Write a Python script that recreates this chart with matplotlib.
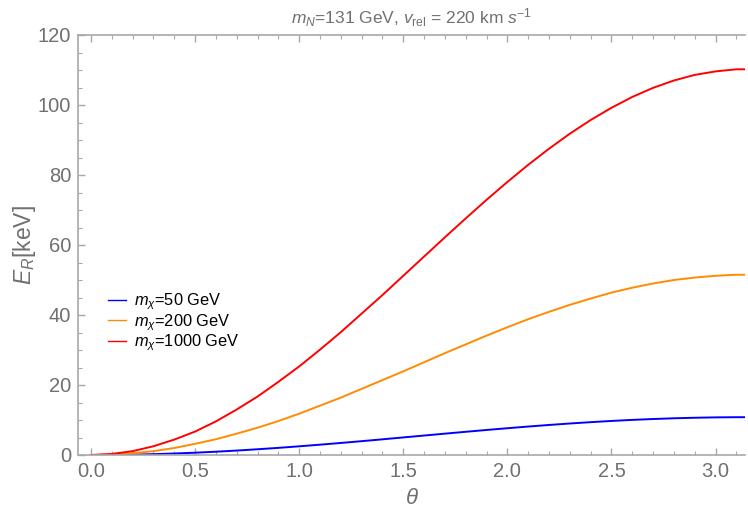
import matplotlib
matplotlib.use('Agg')
import matplotlib.pyplot as plt
from matplotlib.ticker import MultipleLocator

plt.rcParams['font.family'] = ['Liberation Sans', 'DejaVu Sans']
plt.rcParams['mathtext.fontset'] = 'custom'
plt.rcParams['mathtext.rm'] = 'Liberation Sans'
plt.rcParams['mathtext.it'] = 'Liberation Sans:italic'
plt.rcParams['mathtext.bf'] = 'Liberation Sans:bold'

# scattering angle (rad)
theta = [0.0, 0.1, 0.2, 0.3, 0.4, 0.5, 0.6, 0.7, 0.8, 0.9, 1.0,
         1.1, 1.2, 1.3, 1.4, 1.5, 1.6, 1.7, 1.8, 1.9, 2.0,
         2.1, 2.2, 2.3, 2.4, 2.5, 2.6, 2.7, 2.8, 2.9, 3.0,
         3.1, 3.1416]

# recoil energy in keV for each WIMP mass
er_50 = [0.0, 0.03, 0.11, 0.24, 0.43, 0.66, 0.94, 1.27, 1.64, 2.04, 2.48,
         2.95, 3.44, 3.95, 4.48, 5.02, 5.56, 6.10, 6.63, 7.15, 7.65,
         8.13, 8.58, 9.00, 9.38, 9.73, 10.03, 10.28, 10.49, 10.64, 10.75,
         10.80, 10.80]
er_200 = [0.0, 0.1, 0.5, 1.1, 2.0, 3.2, 4.5, 6.1, 7.8, 9.7, 11.8,
          14.1, 16.4, 18.9, 21.4, 23.9, 26.5, 29.1, 31.6, 34.1, 36.5,
          38.8, 40.9, 42.9, 44.7, 46.4, 47.8, 49.0, 50.0, 50.7, 51.2,
          51.5, 51.5]
er_1000 = [0.0, 0.3, 1.1, 2.5, 4.4, 6.7, 9.6, 13.0, 16.7, 20.9, 25.3,
           30.1, 35.1, 40.4, 45.7, 51.2, 56.7, 62.2, 67.6, 72.9, 78.0,
           82.9, 87.5, 91.8, 95.7, 99.2, 102.3, 104.9, 107.0, 108.6, 109.6,
           110.2, 110.2]

labels = [r'$m_\chi$=50 GeV', r'$m_\chi$=200 GeV', r'$m_\chi$=1000 GeV']
colors = ['#0000ff', '#ff8c00', '#ff0000']

fig = plt.figure(figsize=(7.48, 5.13), dpi=100)
ax = fig.add_axes([78 / 748, 58 / 513, 667 / 748, 420 / 513])

for y, lab, c in zip([er_50, er_200, er_1000], labels, colors):
    ax.plot(theta, y, color=c, lw=1.4, label=lab)

ax.set_xlim(-0.0625, 3.1416)
ax.set_ylim(0, 120)
ax.xaxis.set_major_locator(MultipleLocator(0.5))
ax.xaxis.set_minor_locator(MultipleLocator(0.1))
ax.yaxis.set_major_locator(MultipleLocator(20))
ax.yaxis.set_minor_locator(MultipleLocator(5))
ax.xaxis.set_major_formatter(matplotlib.ticker.FormatStrFormatter('%.1f'))

axcol = '#a8a8a8'
txtcol = '#707070'
for s in ['left', 'bottom', 'top']:
    ax.spines[s].set_color(axcol)
    ax.spines[s].set_linewidth(1.2)
ax.spines['right'].set_visible(False)
ax.tick_params(which='both', direction='in', color=axcol, labelcolor=txtcol,
               labelsize=14.5, top=True, right=False)
ax.tick_params(which='major', length=5, width=1.0, pad=5)
ax.tick_params(which='minor', length=3, width=0.8)

ax.set_xlabel(r'$\theta$', fontsize=16, color=txtcol, labelpad=5)
ax.set_ylabel(r'$E_R$[keV]', fontsize=16.5, color=txtcol, labelpad=0)
ax.set_title(r'$m_N$=131 GeV, $v_{\rm rel}$ = 220 km $s^{-1}$',
             fontsize=12.5, color=txtcol, pad=8)

leg = ax.legend(loc='upper left', bbox_to_anchor=(0.035, 0.405), frameon=False,
                fontsize=11.8, handlelength=1.1, handletextpad=0.5,
                labelspacing=0.0, borderaxespad=0)
for line in leg.get_lines():
    line.set_linewidth(1.0)

fig.savefig('out.png', dpi=100)
